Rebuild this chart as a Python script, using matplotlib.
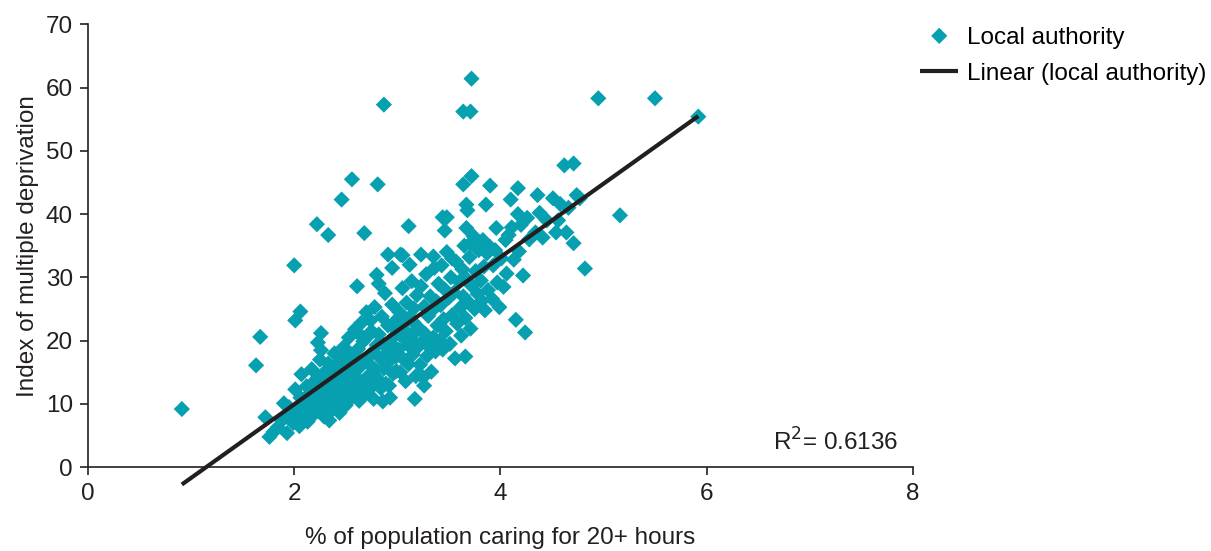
import numpy as np
import matplotlib.pyplot as plt

plt.rcParams['font.family'] = ['Liberation Sans', 'DejaVu Sans']

# % of population caring for 20+ hours, by local authority
care_pct = [
    0.91, 1.63, 1.67, 2.00, 2.06, 2.01, 2.61, 2.07,
    1.72, 1.76, 1.80, 1.84, 1.88, 1.90, 1.93, 1.95, 1.97, 1.99,
    2.01, 2.03, 2.04, 2.06, 2.08, 2.10, 2.12, 2.13, 2.15, 2.16, 2.18, 2.19, 2.20, 2.05, 2.11, 2.17,
    2.21, 2.22, 2.23, 2.24, 2.25, 2.26, 2.27, 2.28, 2.29, 2.30, 2.31, 2.32, 2.33, 2.34, 2.35, 2.36,
    2.37, 2.38, 2.39, 2.40, 2.23, 2.26, 2.26,
    2.41, 2.42, 2.43, 2.44, 2.45, 2.46, 2.47, 2.48, 2.49, 2.50, 2.51, 2.52, 2.53, 2.54, 2.55, 2.56,
    2.57, 2.58, 2.59, 2.60, 2.44, 2.47, 2.52, 2.55, 2.58,
    2.61, 2.62, 2.63, 2.64, 2.65, 2.66, 2.67, 2.68, 2.69, 2.70, 2.71, 2.72, 2.73, 2.74, 2.75, 2.76,
    2.77, 2.78, 2.79, 2.80, 2.64, 2.69, 2.74, 2.77, 2.80, 2.82,
    2.81, 2.82, 2.83, 2.84, 2.85, 2.86, 2.87, 2.88, 2.89, 2.90, 2.91, 2.92, 2.93, 2.94, 2.95, 2.96,
    2.97, 2.98, 2.99, 3.00, 2.86, 2.92, 2.95, 2.99,
    3.01, 3.02, 3.03, 3.04, 3.05, 3.06, 3.07, 3.08, 3.09, 3.10, 3.11, 3.12, 3.13, 3.14, 3.15, 3.16,
    3.17, 3.18, 3.19, 3.20, 3.05, 3.12, 3.17, 3.08, 3.15,
    3.21, 3.22, 3.23, 3.24, 3.25, 3.26, 3.27, 3.28, 3.29, 3.30, 3.31, 3.32, 3.33, 3.34, 3.35, 3.36,
    3.37, 3.38, 3.39, 3.40, 3.23, 3.35, 3.26,
    3.41, 3.42, 3.43, 3.44, 3.45, 3.46, 3.47, 3.48, 3.50, 3.51, 3.52, 3.53, 3.55, 3.56, 3.57, 3.58,
    3.60, 3.44, 3.48, 3.46, 3.53,
    3.61, 3.62, 3.63, 3.64, 3.65, 3.66, 3.67, 3.68, 3.69, 3.70, 3.71, 3.72, 3.74, 3.75, 3.76, 3.78,
    3.79, 3.67, 3.71, 3.67, 3.66,
    3.81, 3.82, 3.83, 3.84, 3.85, 3.86, 3.87, 3.88, 3.90, 3.92, 3.93, 3.95, 3.96, 3.97, 3.99,
    4.01, 4.03, 4.05, 4.06, 4.08, 4.10, 4.11, 4.13, 4.15, 4.17, 4.18, 4.20, 4.22, 4.24, 4.26, 4.28, 4.17,
    4.34, 4.36, 4.38, 4.41, 4.45, 4.51, 4.54, 4.56, 4.58, 4.62, 4.64, 4.66, 4.71, 4.71, 4.74, 4.77, 4.82,
    4.95, 5.16, 5.50, 5.92,
    3.72, 3.64, 3.71, 3.72, 3.64, 3.90, 2.87, 2.56, 2.81, 2.46, 2.22, 2.33, 2.68, 3.11, 2.91, 3.03,
]

# Index of multiple deprivation
imd_score = [
    9.2, 16.1, 20.6, 31.9, 24.6, 23.2, 28.6, 14.7,
    7.9, 4.8, 5.6, 6.3, 7.4, 10.1, 5.4, 9.5, 8.4, 7.0,
    12.3, 9.2, 7.8, 11.0, 8.6, 10.5, 12.8, 7.2, 9.8, 11.8, 8.2, 13.5, 10.3, 6.5, 9.0, 15.5,
    12.0, 8.9, 14.2, 10.8, 17.0, 9.6, 12.9, 11.4, 8.0, 15.1, 13.3, 10.2, 16.4, 7.4, 12.1, 14.6,
    9.1, 11.7, 18.0, 13.8, 19.7, 18.5, 21.2,
    10.5, 15.8, 12.5, 8.6, 17.2, 13.9, 11.2, 19.0, 14.7, 9.8, 16.3, 12.0, 20.5, 13.1, 10.9, 17.8,
    15.0, 11.8, 21.8, 14.2, 16.8, 9.4, 18.3, 13.6, 16.9,
    12.6, 18.7, 10.5, 15.9, 22.8, 13.5, 19.9, 11.6, 17.0, 24.5, 14.3, 20.8, 12.4, 16.1, 21.5, 18.2,
    13.0, 25.3, 15.4, 19.3, 20.9, 12.3, 23.2, 10.8, 30.4, 29.0,
    14.0, 21.0, 17.3, 12.5, 23.8, 19.5, 15.6, 27.5, 13.2, 18.0, 22.4, 16.7, 11.0, 20.2, 25.7, 14.8,
    19.0, 23.1, 17.5, 21.6, 10.4, 12.9, 31.5, 15.2,
    18.6, 24.5, 15.0, 20.7, 28.3, 17.1, 22.9, 13.6, 26.0, 19.4, 16.3, 23.7, 20.2, 29.4, 17.8, 25.1,
    21.3, 14.4, 27.2, 19.0, 33.5, 32.0, 10.8, 21.5, 23.0,
    22.0, 16.2, 28.6, 19.8, 14.2, 25.4, 21.1, 30.5, 17.6, 23.9, 19.0, 27.0, 15.1, 24.8, 20.5, 31.5,
    18.3, 26.2, 22.4, 29.0, 33.6, 33.3, 12.9,
    20.0, 25.6, 31.9, 18.6, 23.4, 28.1, 21.5, 34.0, 26.8, 19.5, 30.0, 24.0, 27.6, 17.2, 32.5, 22.7,
    29.3, 39.5, 39.5, 37.4, 33.0,
    25.2, 20.8, 31.3, 27.0, 35.0, 23.6, 29.8, 40.6, 26.1, 33.2, 21.9, 28.7, 36.5, 25.0, 31.0, 27.4,
    34.3, 41.5, 35.4, 37.8, 17.5,
    29.5, 26.3, 35.9, 31.7, 24.8, 41.5, 33.8, 28.0, 34.8, 26.6, 31.9, 34.3, 37.8, 29.2, 25.3,
    33.0, 28.5, 35.9, 30.6, 36.7, 42.3, 37.9, 32.8, 23.3, 40.0, 34.1, 38.3, 30.3, 21.3, 39.4, 36.0, 44.1,
    37.1, 43.0, 40.2, 36.3, 39.0, 42.5, 37.1, 39.0, 41.6, 47.7, 37.1, 41.0, 48.0, 35.4, 43.0, 42.5, 31.4,
    58.3, 39.8, 58.3, 55.4,
    61.4, 56.2, 56.2, 46.0, 44.7, 44.5, 57.3, 45.5, 44.7, 42.3, 38.4, 36.7, 37.0, 38.1, 33.6, 33.6,
]

# Linear trend line (least squares as reported on the chart)
trend_slope = 11.62
trend_intercept = -13.3
r_squared = 0.6136

teal = '#07A0B0'
ink = '#231f20'

fig = plt.figure(figsize=(12.11, 5.51), dpi=100)
ax = fig.add_axes([0.0727, 0.152, 0.681, 0.804])

ax.scatter(care_pct, imd_score, marker='D', s=68, color=teal, edgecolors='none',
           zorder=2, label='Local authority')

x = np.array(care_pct)
xs = np.array([x.min(), x.max()])
ax.plot(xs, trend_intercept + trend_slope * xs, color=ink, lw=3.0,
        solid_capstyle='butt', clip_on=False, zorder=3, label='Linear (local authority)')

ax.set_xlim(0, 8)
ax.set_ylim(0, 70)
ax.set_xticks([0, 2, 4, 6, 8])
ax.set_yticks(range(0, 71, 10))
for side in ['top', 'right']:
    ax.spines[side].set_visible(False)
for side in ['left', 'bottom']:
    ax.spines[side].set_linewidth(1.2)
    ax.spines[side].set_color(ink)
ax.tick_params(direction='out', length=6, width=1.2, colors=ink,
               labelsize=17.5, pad=5)

ax.set_xlabel('% of population caring for 20+ hours', fontsize=17.5, color=ink, labelpad=16)
ax.set_ylabel('Index of multiple deprivation', fontsize=17.5, color=ink, labelpad=5)

ax.text(7.86, 1.8, 'R$^2$= {:.4f}'.format(r_squared), fontsize=17.5, color=ink, ha='right',
        va='bottom')

fig.legend(loc='upper left', bbox_to_anchor=(0.752, 0.968), frameon=False, fontsize=17.5,
           handlelength=1.55, handletextpad=0.35, labelspacing=0.55, borderaxespad=0.0,
           scatteryoffsets=[0.5])

fig.savefig('out.png', dpi=100)
